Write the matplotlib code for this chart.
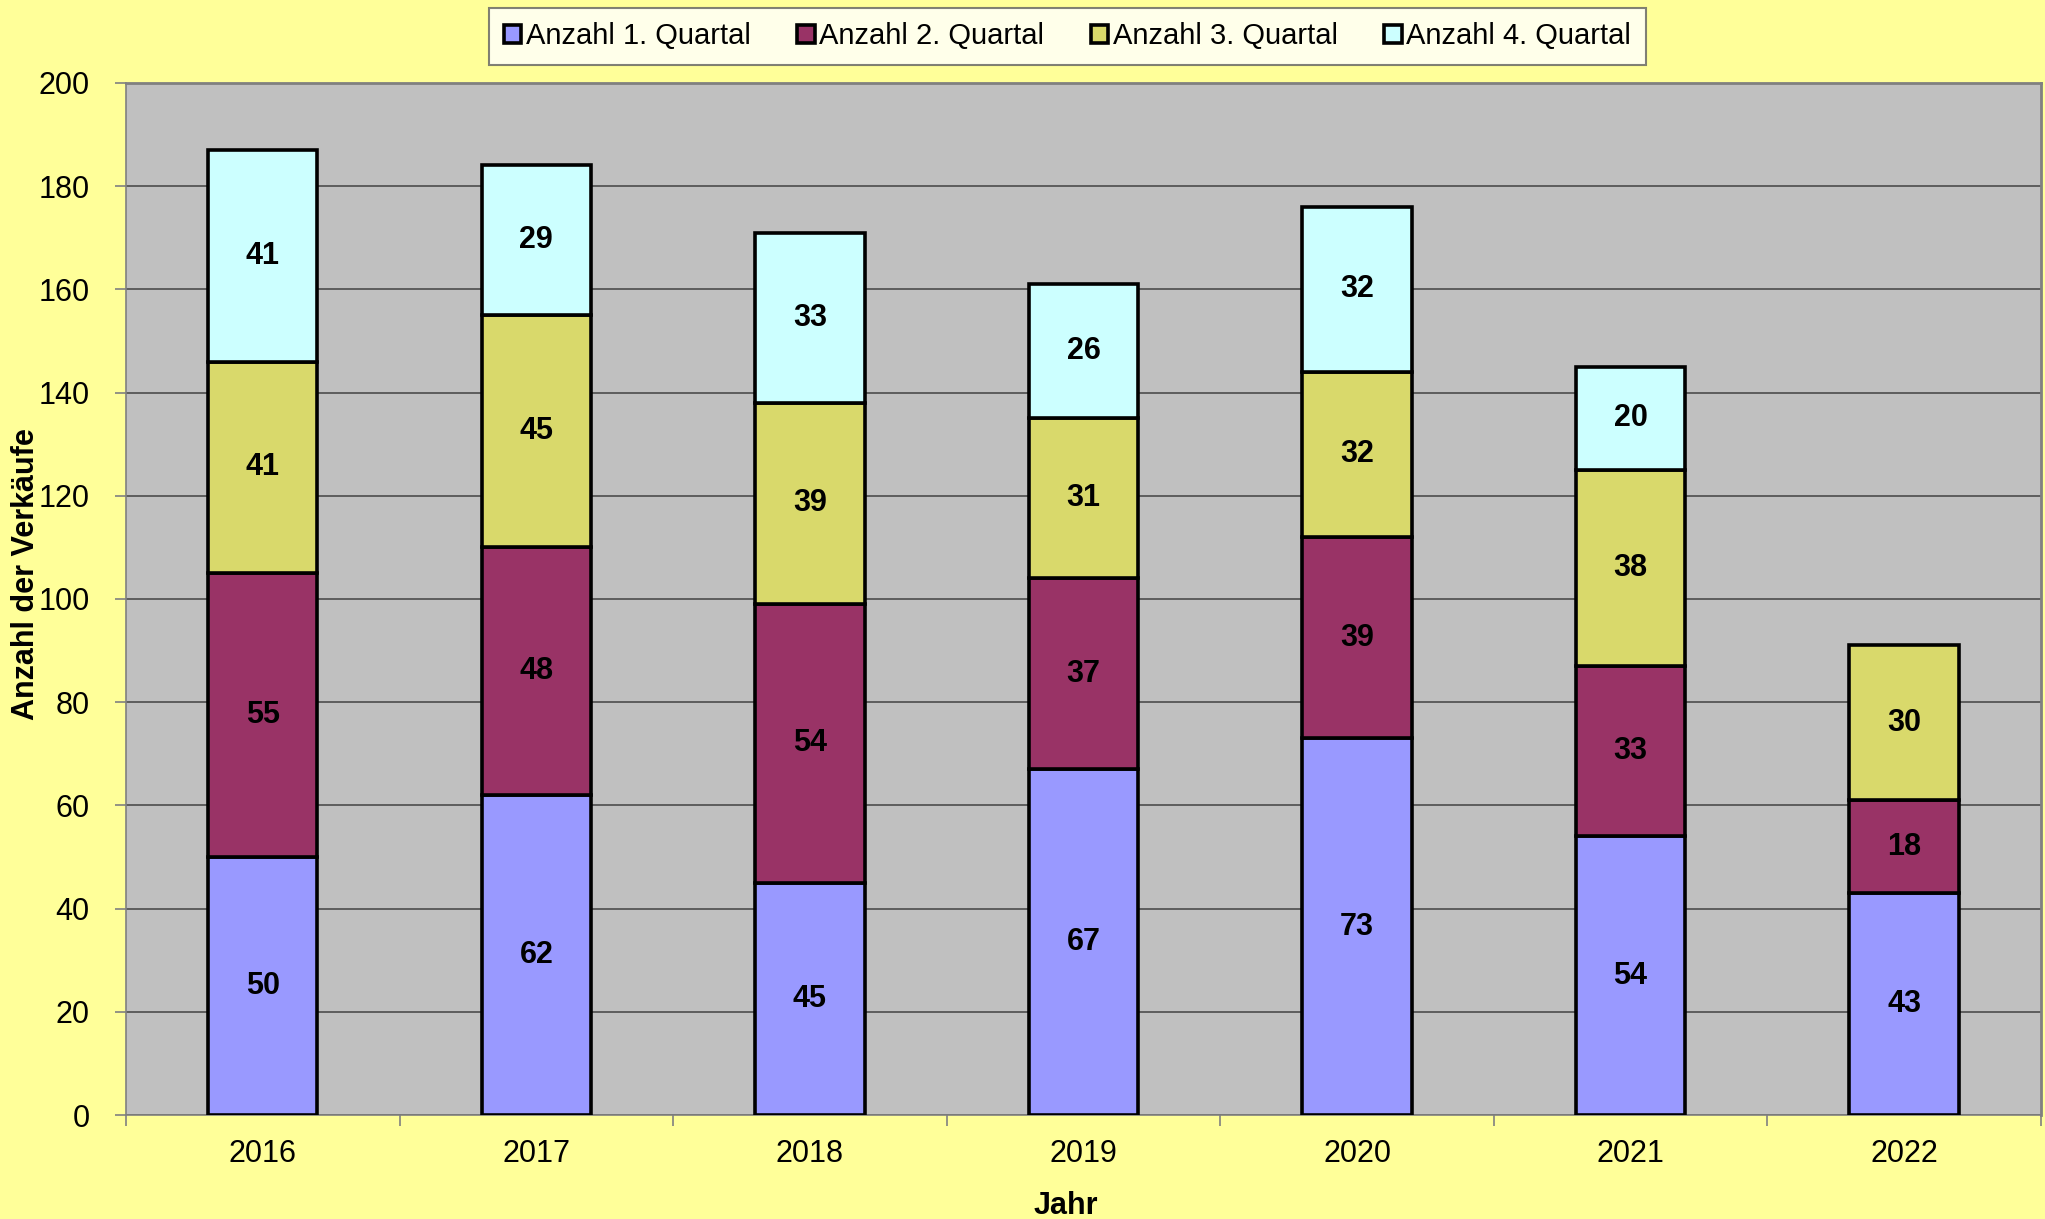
import matplotlib.pyplot as plt
import numpy as np

plt.rcParams['font.family'] = ['Liberation Sans', 'DejaVu Sans']

jahre = ['2016', '2017', '2018', '2019', '2020', '2021', '2022']
q1 = [50, 62, 45, 67, 73, 54, 43]
q2 = [55, 48, 54, 37, 39, 33, 18]
q3 = [41, 45, 39, 31, 32, 38, 30]
q4 = [41, 29, 33, 26, 32, 20, 0]
namen = ['Anzahl 1. Quartal', 'Anzahl 2. Quartal', 'Anzahl 3. Quartal', 'Anzahl 4. Quartal']
farben = ['#9999FF', '#993366', '#D9D96B', '#CCFFFF']

fig = plt.figure(figsize=(20.45, 12.19), dpi=100, facecolor='#FFFF99')
ax = fig.add_axes([0.0616, 0.0853, 0.9364, 0.8467])
ax.set_facecolor('#C0C0C0')

x = np.arange(len(jahre))
unten = np.zeros(len(jahre))
for werte, name, farbe in zip([q1, q2, q3, q4], namen, farben):
    werte = np.array(werte)
    bars = ax.bar(x, werte, 0.4, bottom=unten, color=farbe, edgecolor='black',
                  linewidth=2.6, label=name, zorder=3)
    for b, w, u in zip(bars, werte, unten):
        if w > 0:
            ax.text(b.get_x() + b.get_width() / 2, u + w / 2, str(w), ha='center',
                    va='center', fontsize=22, fontweight='bold', zorder=4)
        else:
            b.set_visible(False)
    unten = unten + werte

ax.set_xlim(-0.5, len(jahre) - 0.5)
ax.set_ylim(0, 200)
ax.set_yticks(range(0, 201, 20))
ax.yaxis.grid(True, color='#555555', linewidth=1.3, zorder=1)
ax.set_xticks(x)
ax.set_xticklabels(jahre, fontsize=22)
ax.set_xticks(np.arange(-0.5, len(jahre)), minor=True)
ax.tick_params(axis='x', which='major', length=0, pad=17)
ax.tick_params(axis='x', which='minor', length=8, color='#808080', width=1.2)
ax.tick_params(axis='y', labelsize=22, length=8, color='#808080', width=1.2, pad=18)
for s in ax.spines.values():
    s.set_color('#808080')
    s.set_linewidth(2)
ax.spines['left'].set_linewidth(1.2)
ax.spines['bottom'].set_linewidth(1.2)

ax.set_ylabel('Anzahl der Verkäufe', fontsize=22, fontweight='bold', va='center')
ax.yaxis.set_label_coords(-0.052, 0.524)
ax.set_xlabel('Jahr', fontsize=22, fontweight='bold', va='center')
ax.xaxis.set_label_coords(0.491, -0.088)

leg = fig.legend(loc='upper center', bbox_to_anchor=(0.522, 0.996), ncol=4, fontsize=21,
                 frameon=True, fancybox=False, handlelength=0.6, handleheight=0.6,
                 handletextpad=0.15, columnspacing=1.6, borderpad=0.5, borderaxespad=0.1,
                 edgecolor='#606060')
leg.get_frame().set_linewidth(1.5)

fig.savefig('out.png', dpi=100, facecolor=fig.get_facecolor())
